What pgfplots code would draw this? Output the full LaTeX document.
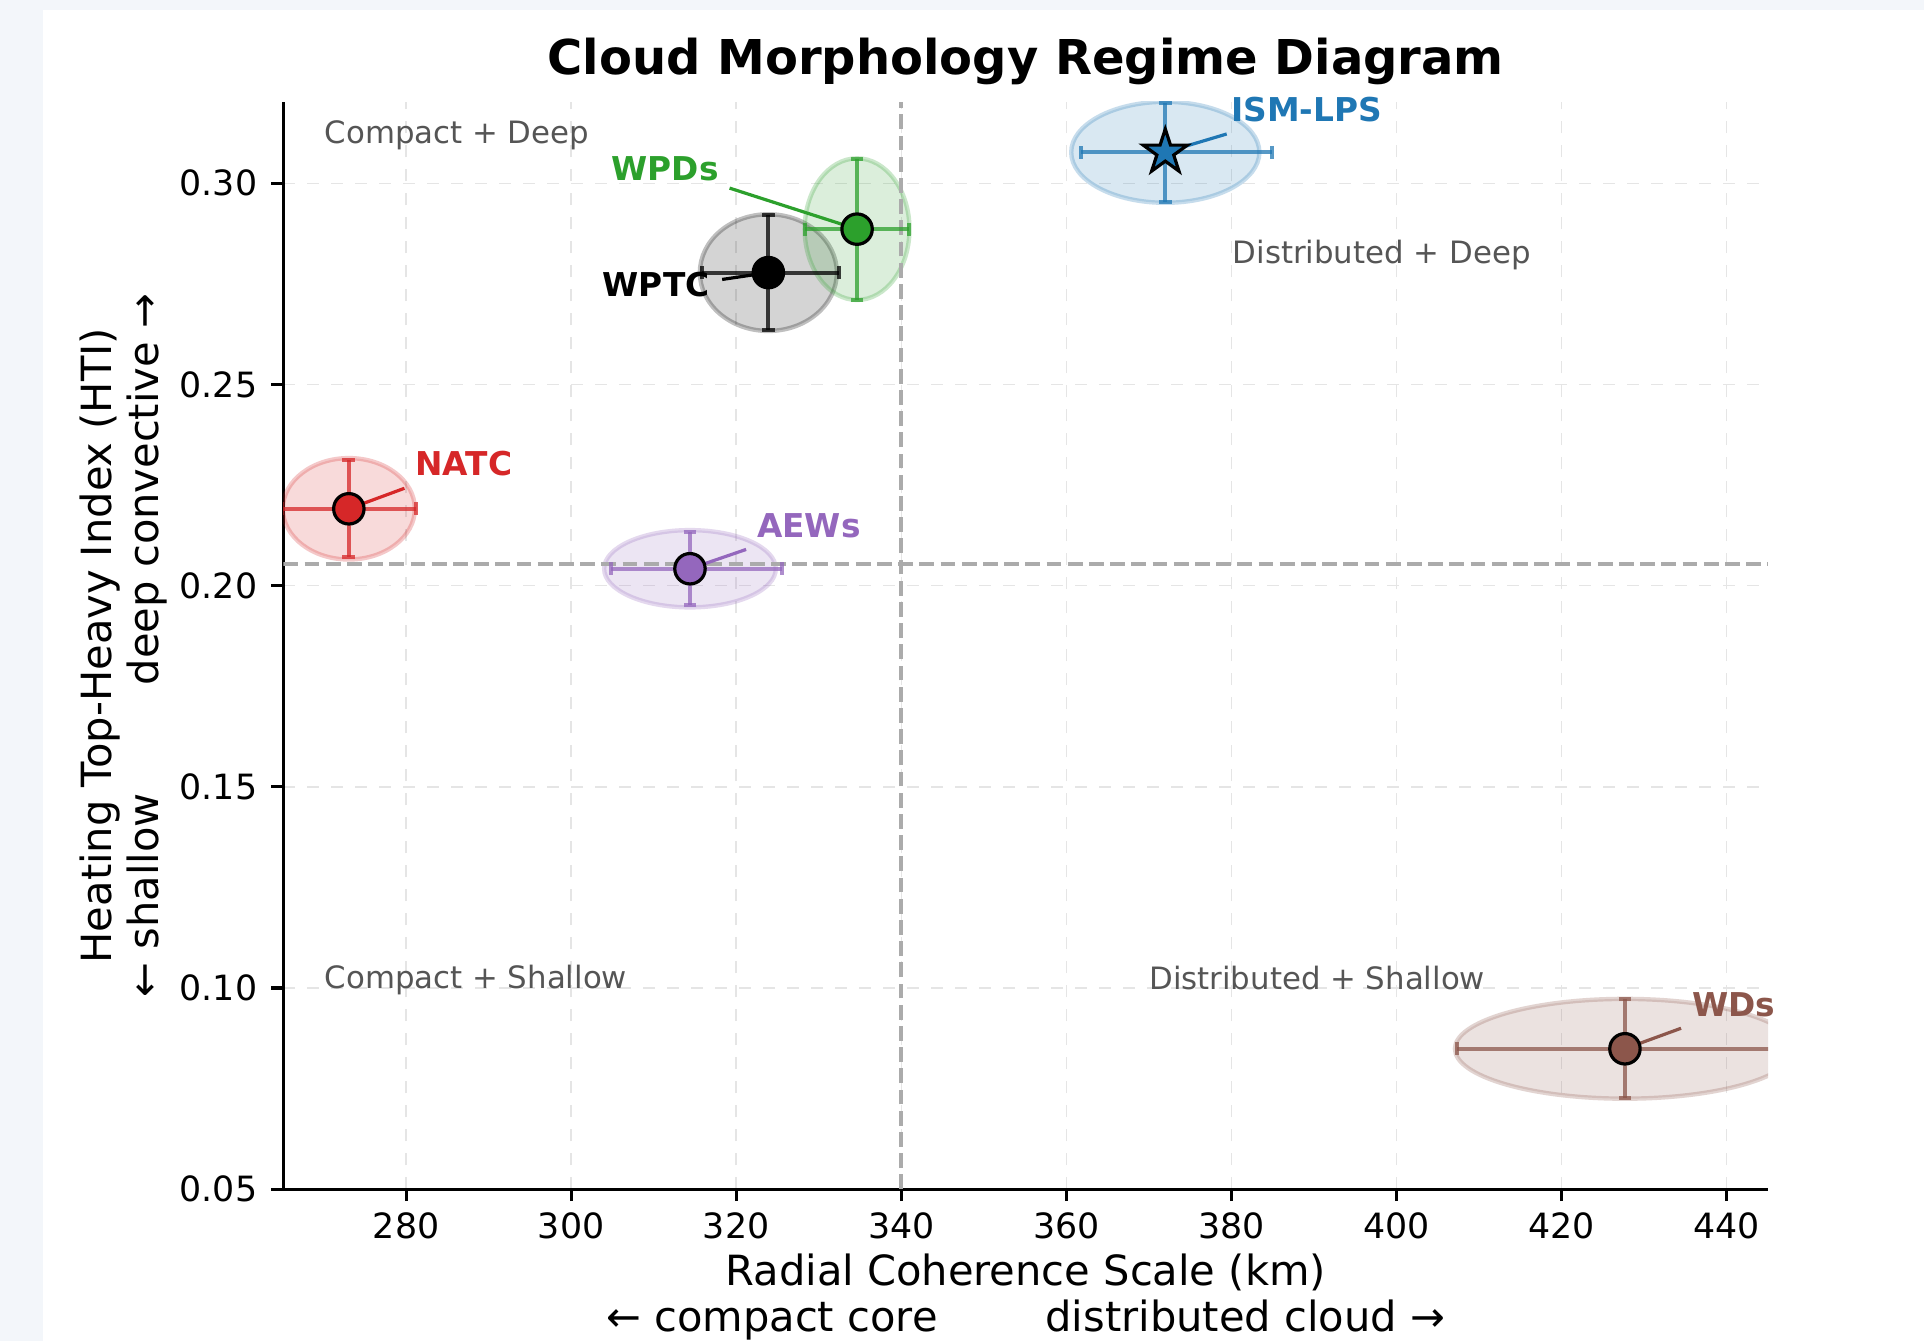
\documentclass[border=0pt]{standalone}
\usepackage{pgfplots}
\pgfplotsset{compat=1.18}
\usepackage{fontspec}
\setmainfont{DejaVu Sans}
\definecolor{pagebg}{RGB}{243,246,250}
\definecolor{cblue}{HTML}{1F77B4}
\definecolor{cred}{HTML}{D62728}
\definecolor{cgreen}{HTML}{2CA02C}
\definecolor{cpurple}{HTML}{9467BD}
\definecolor{cbrown}{HTML}{8C564B}
\definecolor{cblack}{HTML}{000000}
\definecolor{qgray}{HTML}{555555}
\definecolor{refgray}{HTML}{ABABAB}

\pgfdeclareplotmark{fstar}{%
  \pgfpathmoveto{\pgfpointpolar{90}{\pgfplotmarksize}}%
  \pgfpathlineto{\pgfpointpolar{126}{0.382\pgfplotmarksize}}%
  \pgfpathlineto{\pgfpointpolar{162}{\pgfplotmarksize}}%
  \pgfpathlineto{\pgfpointpolar{198}{0.382\pgfplotmarksize}}%
  \pgfpathlineto{\pgfpointpolar{234}{\pgfplotmarksize}}%
  \pgfpathlineto{\pgfpointpolar{270}{0.382\pgfplotmarksize}}%
  \pgfpathlineto{\pgfpointpolar{306}{\pgfplotmarksize}}%
  \pgfpathlineto{\pgfpointpolar{342}{0.382\pgfplotmarksize}}%
  \pgfpathlineto{\pgfpointpolar{18}{\pgfplotmarksize}}%
  \pgfpathlineto{\pgfpointpolar{54}{0.382\pgfplotmarksize}}%
  \pgfpathclose
  \pgfusepathqfillstroke
}

\pgfplotsset{
  ebar/.style={only marks, mark=none, forget plot,
    error bars/.cd, x dir=both, y dir=both, x explicit, y explicit, error mark=-,
    error bar style={line width=1pt, color=#1, opacity=0.75},
    error mark options={rotate=90, line width=1pt, color=#1, mark size=1.6pt, opacity=0.75}},
  aline/.style={no marks, forget plot, line width=0.8pt, color=#1},
  cmark/.style={only marks, forget plot, mark=*, mark size=3.8pt,
    mark options={fill=#1, draw=black, line width=0.8pt}},
}
\tikzset{
  ell/.style={fill=#1, fill opacity=0.17, draw=#1, draw opacity=0.25, line width=1.1pt},
  lab/.style={font=\bfseries\fontsize{8.2}{9.8}\selectfont, text=#1, inner sep=0pt, anchor=center},
  quad/.style={font=\fontsize{7.7}{9.2}\selectfont, text=qgray, inner sep=0pt, anchor=west},
}

\begin{document}
\begin{tikzpicture}
\fill[pagebg] (-70.85pt,-37.93pt) rectangle (410.15pt,297.3pt);
\fill[white] (-60.1pt,-37.93pt) rectangle (410.15pt,294.8pt);
\begin{axis}[
  at={(0pt,0pt)}, anchor=south west,
  scale only axis, width=371.15pt, height=271.8pt,
  xmin=265.13, xmax=445.04, ymin=0.05, ymax=0.3202,
  axis lines=left, axis line style={-, line width=0.8pt, black},
  tick align=outside, major tick length=3pt, tick style={line width=0.8pt, black},
  xtick={280,300,320,340,360,380,400,420,440},
  ytick={0.05,0.10,0.15,0.20,0.25,0.30},
  yticklabel style={/pgf/number format/.cd, fixed, fixed zerofill, precision=2},
  xticklabel style={yshift=0.7pt},
  ticklabel style={font=\fontsize{8.7}{10}\selectfont},
  /pgf/number format/assume math mode=true,
  grid=major, grid style={dashed, line width=0.35pt, black!10},
  clip mode=individual,
  title={Cloud Morphology Regime Diagram},
  title style={font=\bfseries\fontsize{12}{14}\selectfont, at={(axis description cs:0.5,1)}, anchor=base, yshift=0.9pt, inner sep=0pt},
  xlabel={Radial Coherence Scale (km)\\← compact core\hspace{27pt}distributed cloud →},
  xlabel style={font=\fontsize{10.4}{11.6}\selectfont, align=center, at={(axis description cs:0.5,-0.0992)}, anchor=center, inner sep=0pt},
  ylabel={Heating Top-Heavy Index (HTI)\\← shallow\hspace{27pt}deep convective →},
  ylabel style={font=\fontsize{10.4}{11.65}\selectfont, align=center, at={(axis description cs:-0.1075,0.5)}, anchor=center, inner sep=0pt},
]
% uncertainty ellipses
\begin{scope}
\clip (rel axis cs:0,0) rectangle (rel axis cs:1,1);
\draw[ell=cblack] (axis cs:323.9,0.2778) ellipse [x radius=8.3, y radius=0.0145];
\draw[ell=cgreen] (axis cs:334.65,0.2886) ellipse [x radius=6.35, y radius=0.0176];
\draw[ell=cblue] (axis cs:372.0,0.3077) ellipse [x radius=11.4, y radius=0.01255];
\draw[ell=cred] (axis cs:273.06,0.2191) ellipse [x radius=8.0, y radius=0.0126];
\draw[ell=cpurple] (axis cs:314.4,0.2042) ellipse [x radius=10.4, y radius=0.0096];
\draw[ell=cbrown] (axis cs:427.7,0.0849) ellipse [x radius=20.6, y radius=0.0124];
\end{scope}
% regime boundaries
\addplot[forget plot, no marks, color=refgray, line width=0.9pt, dash pattern=on 3.7pt off 1.6pt] coordinates {(340,0.05) (340,0.3202)};
\addplot[forget plot, no marks, color=refgray, line width=0.9pt, dash pattern=on 3.7pt off 1.6pt] coordinates {(265.13,0.2054) (445.04,0.2054)};
% error bars
\addplot[ebar=cblack] coordinates {(323.9,0.2778) += (8.55,0.0142) -= (8.1,0.0142)};
\addplot[ebar=cgreen] coordinates {(334.65,0.2886) += (6.35,0.0175) -= (6.35,0.0175)};
\addplot[ebar=cblue] coordinates {(372.0,0.3077) += (12.93,0.01235) -= (10.2,0.01235)};
\addplot[ebar=cred] coordinates {(273.06,0.2191) += (8.1,0.0121) -= (8.1,0.0121)};
\addplot[ebar=cpurple] coordinates {(314.4,0.2042) += (11.2,0.0091) -= (9.6,0.0091)};
\addplot[ebar=cbrown] coordinates {(427.7,0.0849) += (20.3,0.0123) -= (20.3,0.0123)};
% annotation lines
\addplot[aline=cblack] coordinates {(318.3,0.2761) (323.9,0.2778)};
\addplot[aline=cgreen] coordinates {(319.2,0.2988) (334.65,0.2886)};
\addplot[aline=cblue] coordinates {(379.44,0.31225) (372.0,0.3077)};
\addplot[aline=cred] coordinates {(279.8,0.2242) (273.06,0.2191)};
\addplot[aline=cpurple] coordinates {(321.2,0.2090) (314.4,0.2042)};
\addplot[aline=cbrown] coordinates {(434.5,0.0900) (427.7,0.0849)};
% markers
\addplot[cmark=cblack] coordinates {(323.9,0.2778)};
\addplot[cmark=cgreen] coordinates {(334.65,0.2886)};
\addplot[cmark=cred] coordinates {(273.06,0.2191)};
\addplot[cmark=cpurple] coordinates {(314.4,0.2042)};
\addplot[cmark=cbrown] coordinates {(427.7,0.0849)};
\addplot[only marks, forget plot, mark=fstar, mark size=5.8pt, mark options={fill=cblue, draw=black, line width=0.8pt}] coordinates {(372.0,0.3077)};
% labels
\node[lab=cblack] at (axis cs:310.3,0.2748) {WPTC};
\node[lab=cgreen] at (axis cs:311.4,0.3037) {WPDs};
\node[lab=cblue] at (axis cs:389.15,0.3184) {ISM-LPS};
\node[lab=cred] at (axis cs:287.0,0.2303) {NATC};
\node[lab=cpurple] at (axis cs:328.8,0.2150) {AEWs};
\node[lab=cbrown] at (axis cs:440.9,0.0958) {WDs};
% regime names
\node[quad] at (axis cs:270.05,0.3120) {Compact + Deep};
\node[quad] at (axis cs:380.08,0.2822) {Distributed + Deep};
\node[quad] at (axis cs:270.05,0.1020) {Compact + Shallow};
\node[quad] at (axis cs:369.97,0.1025) {Distributed + Shallow};
\end{axis}
\end{tikzpicture}
\end{document}
